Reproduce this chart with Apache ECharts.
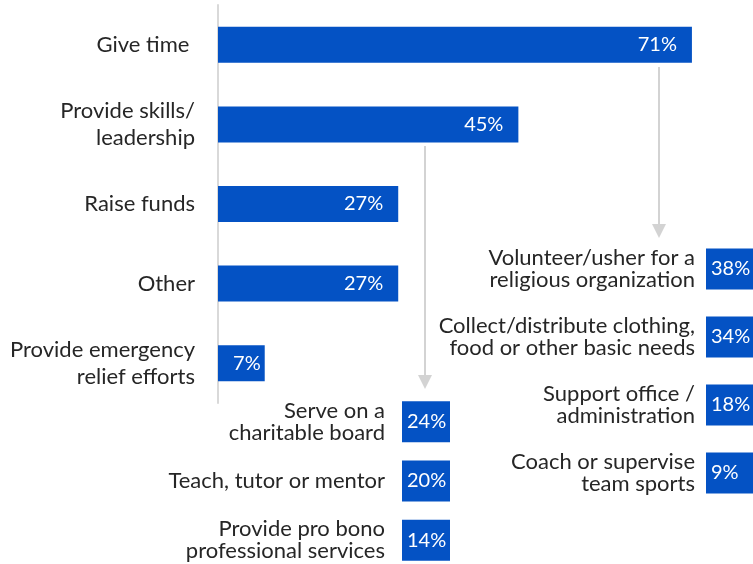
<!DOCTYPE html>
<html>
<head>
<meta charset="utf-8">
<script src="https://cdn.jsdelivr.net/npm/echarts@6/dist/echarts.min.js"></script>
<style>
	html, body { margin: 0; padding: 0; background: #fff; }
	#chart { width: 753px; height: 564px; }
</style>
</head>
<body>
<div id="chart"></div>
<script type="text/javascript">
	// main categories and shares
	var mainCats = ['Give time ', 'Provide skills/\nleadership', 'Raise funds', 'Other', 'Provide emergency\nrelief efforts'];
	var mainVals = [71, 45, 27, 27, 7];

	// breakdown of "Provide skills/leadership"
	var skillCats = ['Serve on a\ncharitable board', 'Teach, tutor or mentor', 'Provide pro bono\nprofessional services'];
	var skillVals = [24, 20, 14];

	// breakdown of "Give time"
	var timeCats = ['Volunteer/usher for a\nreligious organization', 'Collect/distribute clothing,\nfood or other basic needs', 'Support office /\nadministration', 'Coach or supervise\nteam sports'];
	var timeVals = [38, 34, 18, 9];

	var blue = '#0452c4';
	var txt = '#262626';
	var arrowGrey = '#d3d3d3';
	var font = 'Lato';

	function pct(p) { return p.value + '%'; }

	function boxSeries(idx, vals) {
		return {
			type: 'pictorialBar',
			xAxisIndex: idx,
			yAxisIndex: idx,
			symbol: 'rect',
			symbolSize: [48, 41],
			symbolPosition: 'start',
			itemStyle: { color: blue },
			label: {
				show: true,
				position: 'insideLeft',
				distance: 5,
				formatter: pct,
				color: '#fff',
				fontSize: 20,
				fontFamily: font
			},
			data: vals
		};
	}

	function sideY(idx, cats, margin) {
		return {
			type: 'category',
			gridIndex: idx,
			inverse: true,
			data: cats,
			axisLine: { show: false },
			axisTick: { show: false },
			axisLabel: {
				margin: margin,
				color: txt,
				fontSize: 22,
				lineHeight: 22,
				fontFamily: font
			}
		};
	}

	function arrow(x, y1, y2) {
		return [{
			type: 'line',
			shape: { x1: x, y1: y1, x2: x, y2: y2 - 12 },
			style: { stroke: arrowGrey, lineWidth: 2 }
		}, {
			type: 'polygon',
			shape: { points: [[x - 7, y2 - 14], [x + 7, y2 - 14], [x, y2]] },
			style: { fill: arrowGrey }
		}];
	}

	var chart = echarts.init(document.getElementById('chart'));
	var option = {
		animation: false,
		grid: [
			{ left: 218, top: 5, width: 534, height: 398, outerBoundsMode: 'none' },
			{ left: 402, top: 392, width: 48, height: 178, outerBoundsMode: 'none' },
			{ left: 706, top: 235, width: 48, height: 272, outerBoundsMode: 'none' }
		],
		xAxis: [
			{ type: 'value', gridIndex: 0, min: 0, max: 80, show: false },
			{ type: 'value', gridIndex: 1, min: 0, max: 100, show: false },
			{ type: 'value', gridIndex: 2, min: 0, max: 100, show: false }
		],
		yAxis: [
			{
				type: 'category',
				gridIndex: 0,
				inverse: true,
				data: mainCats,
				axisLine: { lineStyle: { color: '#d9d9d9', width: 2 } },
				axisTick: { show: false },
				axisLabel: {
					margin: 23,
					color: txt,
					fontSize: 22,
					lineHeight: 27,
					fontFamily: font
				}
			},
			sideY(1, skillCats, 17),
			sideY(2, timeCats, 11)
		],
		series: [
			{
				type: 'bar',
				xAxisIndex: 0,
				yAxisIndex: 0,
				barWidth: 36,
				itemStyle: { color: blue },
				label: {
					show: true,
					position: 'insideRight',
					formatter: pct,
					color: '#fff',
					fontSize: 20,
					fontFamily: font
				},
				// short bars keep their label nearer the end
				labelLayout: function (p) {
					var r = p.rect;
					return {
						x: r.x + r.width - (r.width < 80 ? 4 : 15),
						y: r.y + r.height / 2,
						align: 'right',
						verticalAlign: 'middle'
					};
				},
				data: mainVals
			},
			boxSeries(1, skillVals),
			boxSeries(2, timeVals)
		],
		graphic: arrow(659, 67, 238).concat(arrow(425, 146, 389))
	};
	chart.setOption(option);
</script>
</body>
</html>
